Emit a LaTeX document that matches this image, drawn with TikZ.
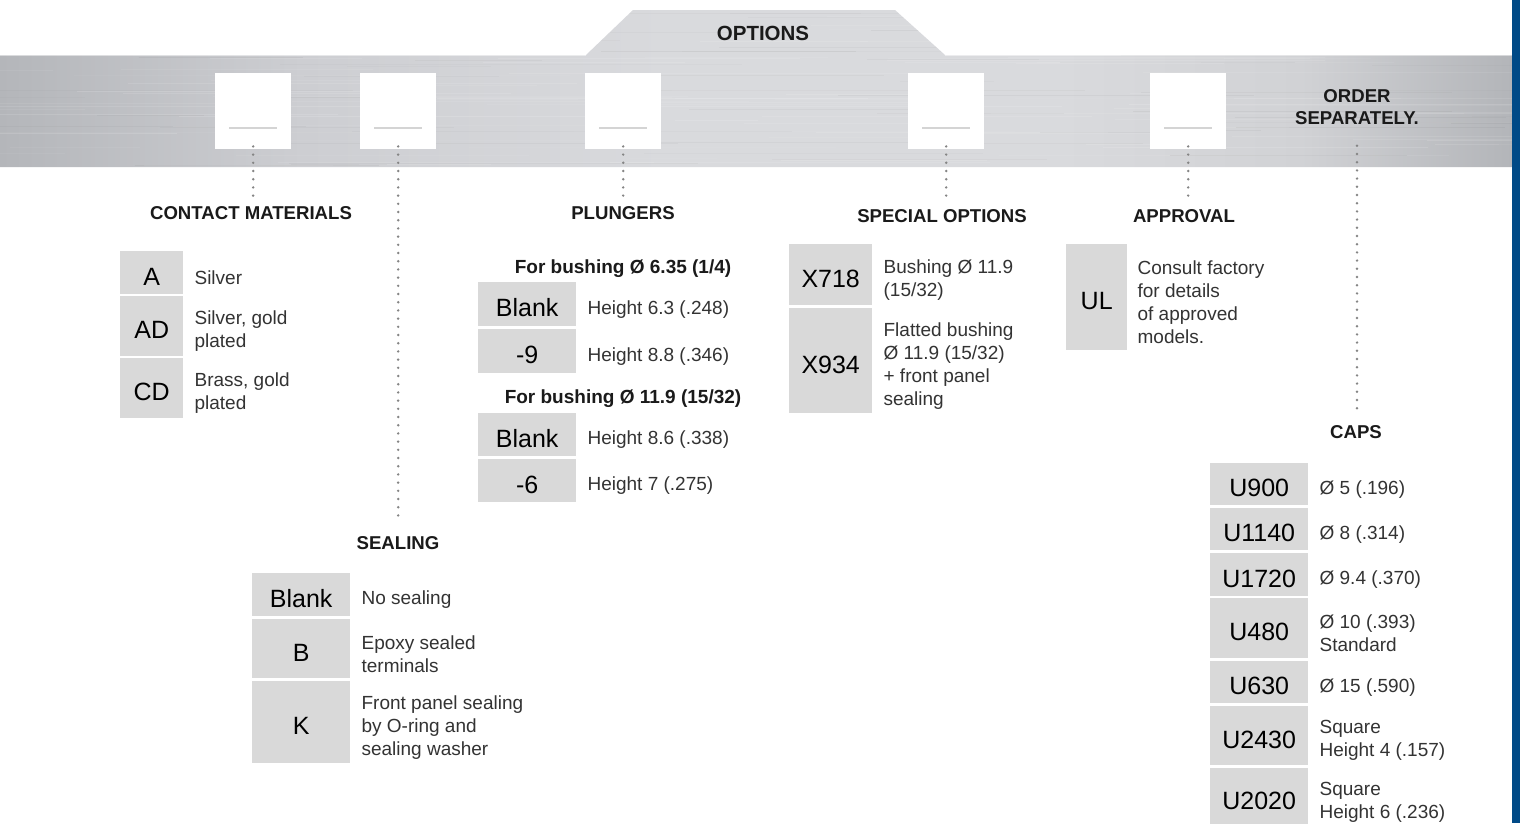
\documentclass[tikz,border=0pt]{standalone}
\usepackage{fontspec}
\setmainfont{Liberation Sans}
\usetikzlibrary{calc}
\definecolor{cellgray}{HTML}{D9D9D9}
\definecolor{txtgray}{HTML}{333333}
\definecolor{headc}{HTML}{1A1A1A}
\definecolor{dotc}{HTML}{858585}
\definecolor{lineg}{HTML}{D4D4D4}
\definecolor{bluebar}{HTML}{004A87}
\definecolor{mA}{HTML}{B4B6BA}
\definecolor{mB}{HTML}{CDCED2}
\definecolor{mC}{HTML}{D9DADD}
\definecolor{mD}{HTML}{D1D2D5}
\definecolor{mE}{HTML}{B3B5B9}
\pgfdeclarehorizontalshading{metal}{100bp}{color(0bp)=(mA); color(25bp)=(mA); color(35bp)=(mB); color(47bp)=(mC); color(60bp)=(mC); color(68bp)=(mD); color(75bp)=(mE); color(100bp)=(mE)}
\newcommand\fBody{\fontsize{19}{23}\selectfont}
\newcommand\fCode{\fontsize{25}{28}\selectfont}
\newcommand\fHead{\fontsize{18.6}{22}\selectfont\bfseries}
\newcommand\fSub{\fontsize{19}{23}\selectfont\bfseries}
\tikzset{
  cell/.style={fill=cellgray, inner sep=0pt, anchor=north west, font=\fCode, text=black, text height=25pt, text depth=0pt},
  desc/.style={anchor=west, align=left, inner sep=0pt, font=\fBody, text=txtgray, yshift=-5pt},
  head/.style={inner sep=0pt, font=\fHead, text=headc, align=center},
  subhead/.style={inner sep=0pt, font=\fSub, text=headc},
  optbox/.style={fill=white, minimum width=76pt, minimum height=76pt, inner sep=0pt, anchor=north west},
  dotline/.style={draw=dotc, line width=2.7pt, line cap=round, dash pattern=on 0pt off 8.2pt},
  boxline/.style={draw=lineg, line width=2pt},
}
\begin{document}
\begin{tikzpicture}[x=1pt,y=-1pt]
\useasboundingbox (0,0) rectangle (1520,823);
\fill[white] (0,0) rectangle (1520,823);
% metal band with tab
\path[shading=metal] (0,55) -- (586,55) -- (633,10) -- (895,10) -- (945,55) -- (1512,55) -- (1512,167) -- (0,167) -- cycle;
\begin{scope}
  \clip (0,55) -- (586,55) -- (633,10) -- (895,10) -- (945,55) -- (1512,55) -- (1512,167) -- (0,167) -- cycle;
  \pgfmathsetseed{11}
  \foreach \i in {1,...,110}{
    \pgfmathsetmacro\yy{10+157*rnd}
    \pgfmathsetmacro\xa{-100+1600*rnd}
    \pgfmathsetmacro\ln{80+420*rnd}
    \pgfmathsetmacro\op{0.04+0.10*rnd}
    \draw[white, opacity=\op, line width=0.9pt] (\xa,\yy) -- ++(\ln,0);
  }
  \foreach \i in {1,...,60}{
    \pgfmathsetmacro\yy{10+157*rnd}
    \pgfmathsetmacro\xa{-100+1600*rnd}
    \pgfmathsetmacro\ln{80+420*rnd}
    \pgfmathsetmacro\op{0.03+0.05*rnd}
    \draw[black!60, opacity=\op, line width=0.8pt] (\xa,\yy) -- ++(\ln,0);
  }
  \draw[white, opacity=0.5, line width=1.2pt] (0,55.6) -- (586,55.6) (945,55.6) -- (1512,55.6);
\end{scope}
% blue bar
\fill[bluebar] (1512,0) rectangle (1520,823);

\node[inner sep=0pt, font=\fontsize{20.5}{24}\selectfont\bfseries, text=headc] (opt) at (763,33) {OPTIONS};

% option boxes
\node[optbox] (b1) at (215,73) {};
\node[optbox] (b2) at (360,73) {};
\node[optbox] (b3) at (585,73) {};
\node[optbox] (b4) at (908,73) {};
\node[optbox] (b5) at (1150,73) {};
\foreach \b in {b1,b2,b3,b4,b5}{
  \draw[boxline] ($(\b.south west)+(14,-21)$) -- ($(\b.south east)+(-14,-21)$);
}
\node[head] (os) at (1357,107) {ORDER\\SEPARATELY.};

% headings
\node[head] (h1) at (251,213) {CONTACT MATERIALS};
\node[head] (h3) at (623,213) {PLUNGERS};
\node[head] (h4) at (942,216) {SPECIAL OPTIONS};
\node[head] (h5) at (1184,216) {APPROVAL};
\node[head] (h2) at (398,543) {SEALING};
\node[head] (h6) at (1356,432) {CAPS};

% dotted connectors
\draw[dotline] ([yshift=3pt]b1.south) -- ($(b1.south |- h1.north)+(0,-10)$);
\draw[dotline] ([yshift=3pt]b2.south) -- ($(b2.south |- h2.north)+(0,-16)$);
\draw[dotline] ([yshift=3pt]b3.south) -- ($(b3.south |- h3.north)+(0,-10)$);
\draw[dotline] ([yshift=3pt]b4.south) -- ($(b4.south |- h4.north)+(0,-12)$);
\draw[dotline] ([yshift=3pt]b5.south) -- ($(b5.south |- h5.north)+(0,-12)$);
\draw[dotline] ($(os.south)+(0,21)$) -- ($(os.south |- h6.north)+(0,-13)$);

% contact materials
\node[cell, minimum width=63pt, minimum height=43pt] (cA) at (120,251) {A};
\node[cell, minimum width=63pt, minimum height=60pt] (cAD) at (120,296) {AD};
\node[cell, minimum width=63pt, minimum height=60pt] (cCD) at (120,358) {CD};
\node[desc] (dA) at ([xshift=11pt]cA.east) {Silver};
\node[desc] (dAD) at ([xshift=11pt]cAD.east) {Silver, gold\\plated};
\node[desc] (dCD) at ([xshift=11pt]cCD.east) {Brass, gold\\plated};

% plungers
\node[subhead] (s1) at (623,269) {For bushing Ø 6.35 (1/4)};
\node[cell, minimum width=98pt, minimum height=44pt] (pB1) at (478,282) {Blank};
\node[cell, minimum width=98pt, minimum height=44pt] (p9) at (478,329) {-9};
\node[subhead] (s2) at (623,399) {For bushing Ø 11.9 (15/32)};
\node[cell, minimum width=98pt, minimum height=43pt] (pB2) at (478,413) {Blank};
\node[cell, minimum width=98pt, minimum height=43pt] (p6) at (478,459) {-6};
\node[desc] (dpB1) at ([xshift=11pt]pB1.east) {Height 6.3 (.248)};
\node[desc] (dp9) at ([xshift=11pt]p9.east) {Height 8.8 (.346)};
\node[desc] (dpB2) at ([xshift=11pt]pB2.east) {Height 8.6 (.338)};
\node[desc] (dp6) at ([xshift=11pt]p6.east) {Height 7 (.275)};

% special options
\node[cell, minimum width=83pt, minimum height=61pt] (x718) at (789,244) {X718};
\node[cell, minimum width=83pt, minimum height=105pt] (x934) at (789,308) {X934};
\node[desc] (dx718) at ([xshift=11pt]x718.east) {Bushing Ø 11.9\\(15/32)};
\node[desc] (dx934) at ([xshift=11pt]x934.east) {Flatted bushing\\Ø 11.9 (15/32)\\+ front panel\\sealing};

% approval
\node[cell, minimum width=61pt, minimum height=106pt] (ul) at (1066,244) {UL};
\node[desc] (dul) at ([xshift=10pt]ul.east) {Consult factory\\for details\\of approved\\models.};

% sealing
\node[cell, minimum width=98pt, minimum height=43pt] (sB) at (252,573) {Blank};
\node[cell, minimum width=98pt, minimum height=59pt] (sBB) at (252,619) {B};
\node[cell, minimum width=98pt, minimum height=82pt] (sK) at (252,681) {K};
\node[desc] (dsB) at ([xshift=11pt]sB.east) {No sealing};
\node[desc] (dsBB) at ([xshift=11pt]sBB.east) {Epoxy sealed\\terminals};
\node[desc] (dsK) at ([xshift=11pt]sK.east) {Front panel sealing\\by O-ring and\\sealing washer};

% caps
\node[cell, minimum width=98pt, minimum height=42pt] (u900) at (1210,463) {U900};
\node[cell, minimum width=98pt, minimum height=42pt] (u1140) at (1210,508) {U1140};
\node[cell, minimum width=98pt, minimum height=43pt] (u1720) at (1210,553) {U1720};
\node[cell, minimum width=98pt, minimum height=60pt] (u480) at (1210,598) {U480};
\node[cell, minimum width=98pt, minimum height=42pt] (u630) at (1210,661) {U630};
\node[cell, minimum width=98pt, minimum height=59pt] (u2430) at (1210,706) {U2430};
\node[cell, minimum width=98pt, minimum height=58pt] (u2020) at (1210,768) {U2020};
\node[desc] (du900) at ([xshift=11pt]u900.east) {Ø 5 (.196)};
\node[desc] (du1140) at ([xshift=11pt]u1140.east) {Ø 8 (.314)};
\node[desc] (du1720) at ([xshift=11pt]u1720.east) {Ø 9.4 (.370)};
\node[desc] (du480) at ([xshift=11pt]u480.east) {Ø 10 (.393)\\Standard};
\node[desc] (du630) at ([xshift=11pt]u630.east) {Ø 15 (.590)};
\node[desc] (du2430) at ([xshift=11pt]u2430.east) {Square\\Height 4 (.157)};
\node[desc] (du2020) at ([xshift=11pt]u2020.east) {Square\\Height 6 (.236)};
\end{tikzpicture}
\end{document}
